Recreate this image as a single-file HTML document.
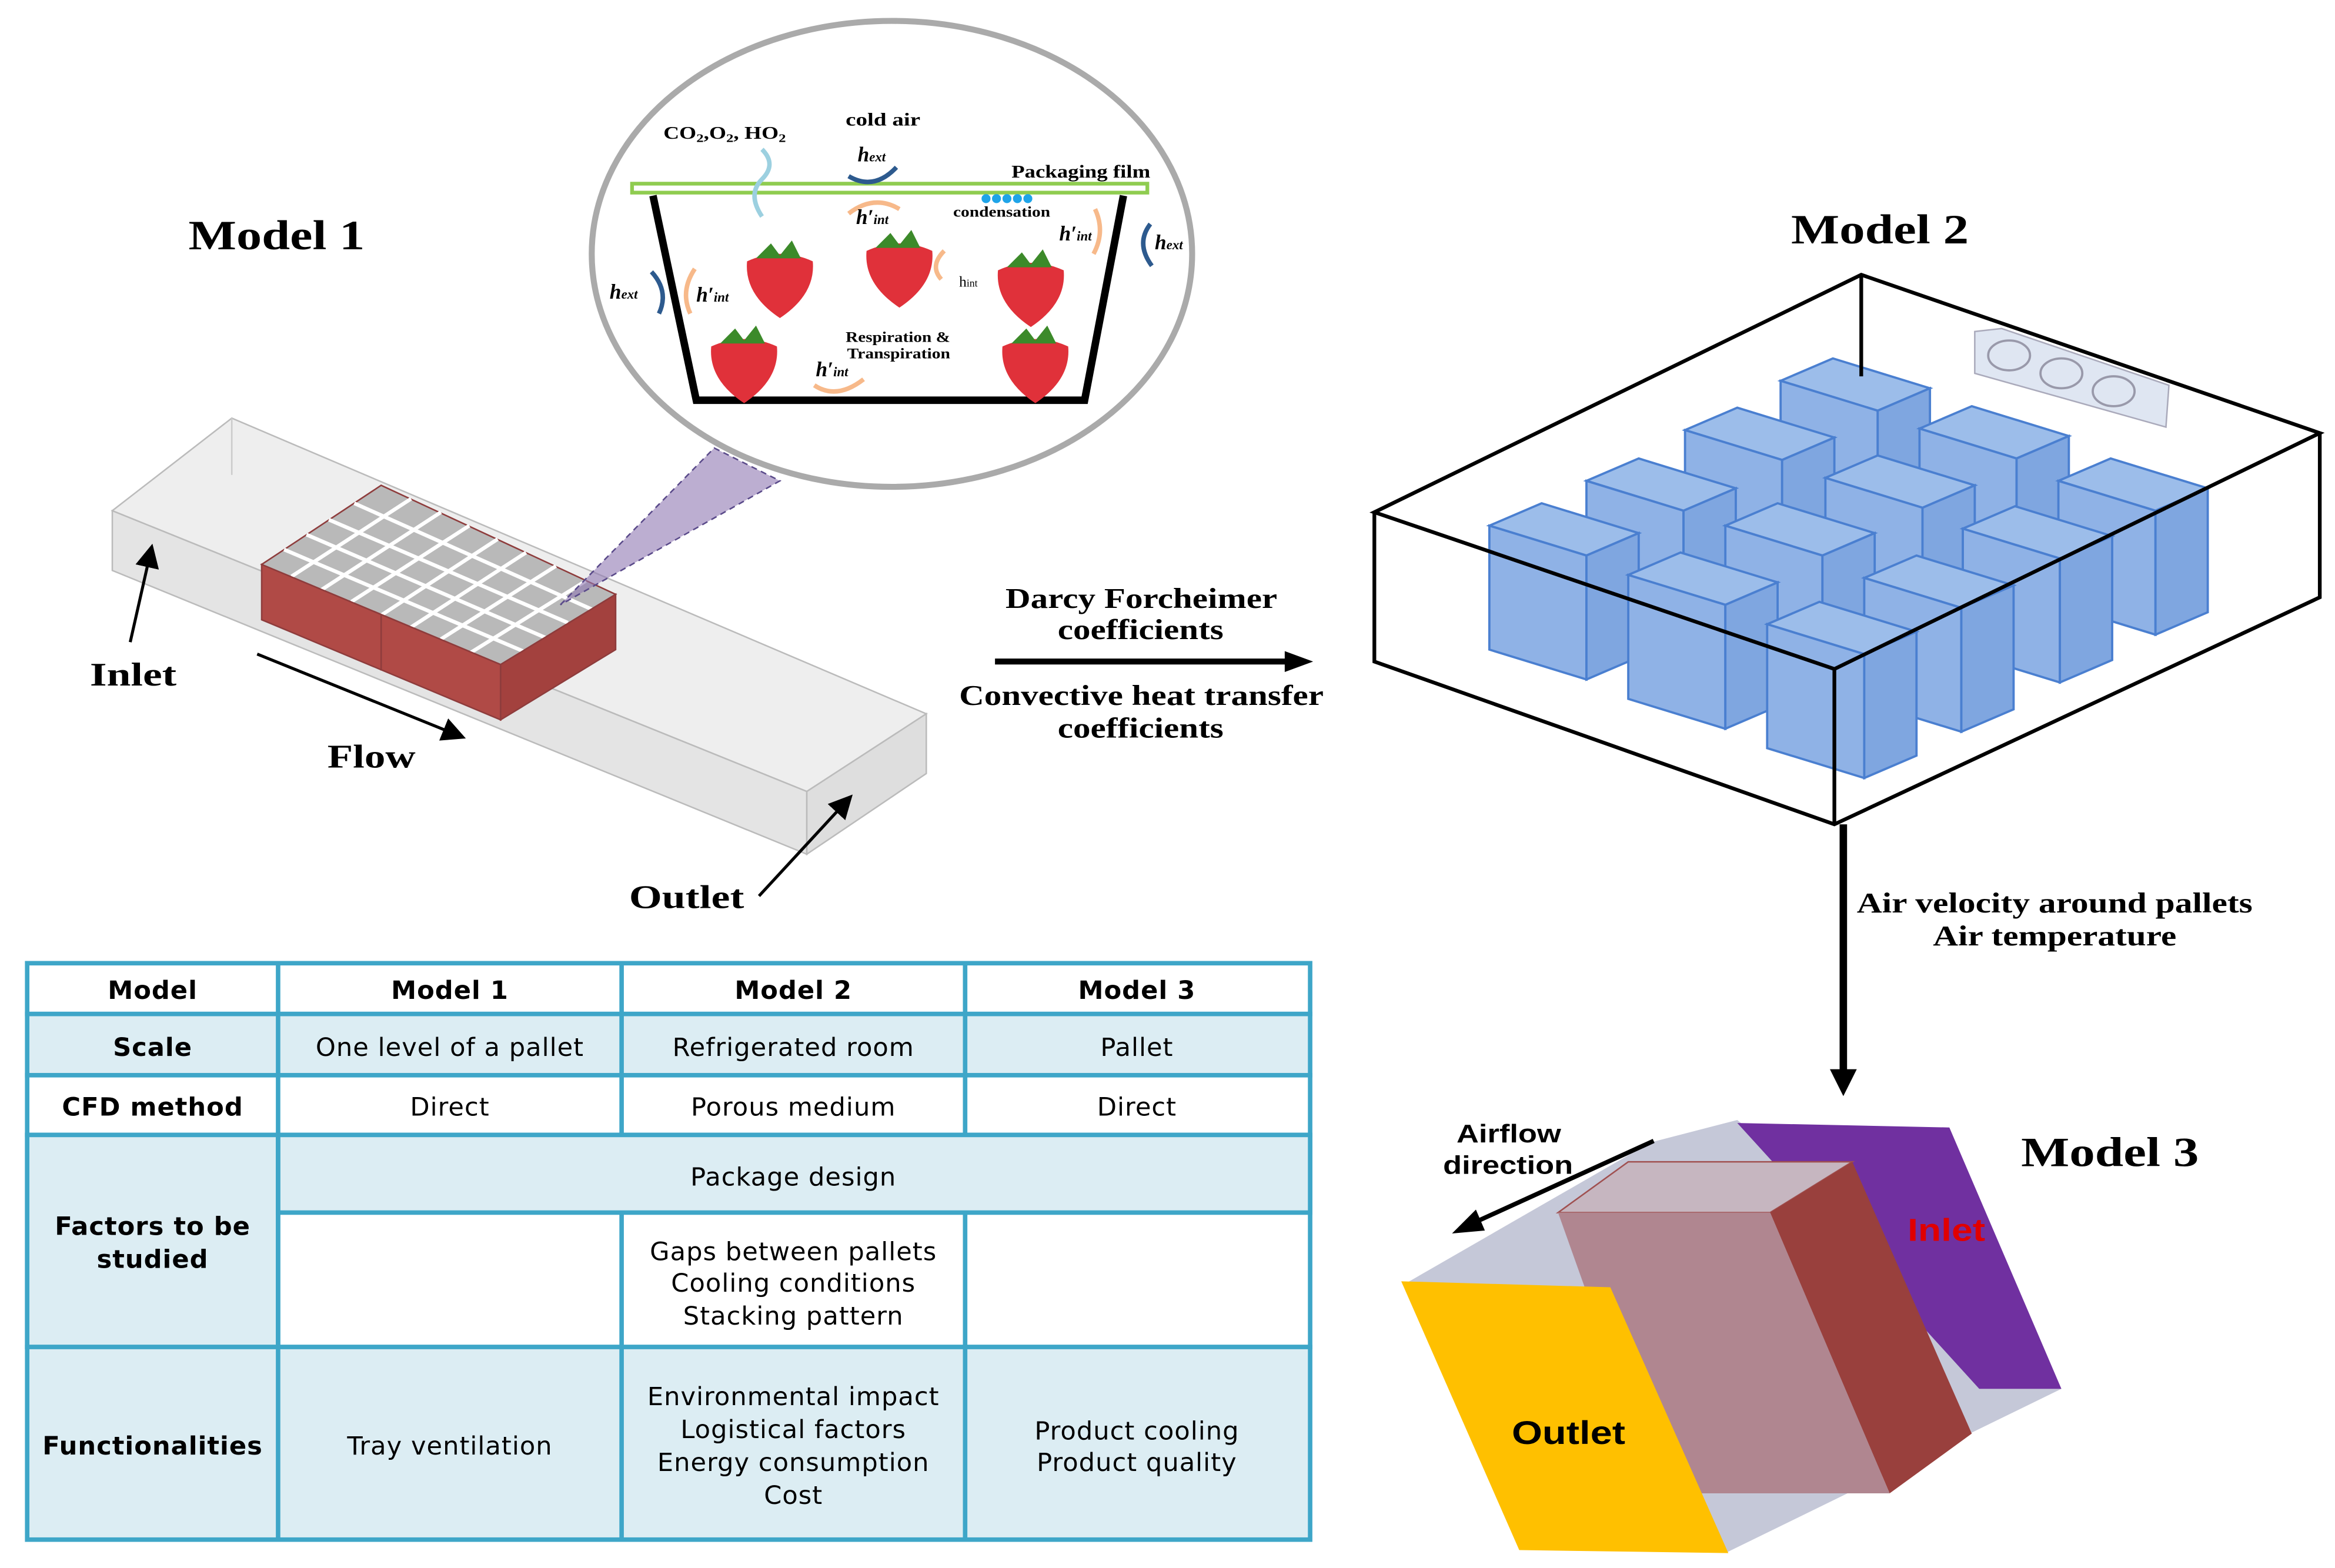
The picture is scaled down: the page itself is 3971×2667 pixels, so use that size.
<!DOCTYPE html>
<html><head><meta charset="utf-8"><style>
html,body{margin:0;padding:0;background:#fff}
svg{display:block}
.s{font-family:"Liberation Serif",serif;font-weight:bold;fill:#000}
.t{font-family:"DejaVu Sans","Liberation Sans",sans-serif;font-size:17px;letter-spacing:0.4px;fill:#000;text-anchor:middle}
.tb{font-weight:bold}
</style></head><body>
<svg width="3971" height="2667" viewBox="0 0 1563 1050" xmlns="http://www.w3.org/2000/svg">
<defs>
<marker id="ah" markerWidth="8" markerHeight="8" refX="6" refY="4" orient="auto" markerUnits="strokeWidth"><path d="M0,0 L8,4 L0,8 z" fill="#000"/></marker>
<g id="sb"><path d="M-22,-12 Q0,-22 22,-12 Q24,10 0,26 Q-24,10 -22,-12z" fill="#e0313a"/><path d="M-16,-14 L-6,-24 L0,-16 L8,-26 L14,-14 z" fill="#3c8a2a"/></g>
<g id="cube">
<path d="M0,0 L35,-15 L100,5 L65,20 z" fill="#9cbdea" stroke="#4a7fd0" stroke-width="1.5"/>
<path d="M0,0 L65,20 L65,103 L0,83 z" fill="#8fb2e6" stroke="#4a7fd0" stroke-width="1.5"/>
<path d="M65,20 L100,5 L100,88 L65,103 z" fill="#7fa6e0" stroke="#4a7fd0" stroke-width="1.5"/>
</g>
</defs>

<!-- Model 1 box -->
<path d="M75,342 L155,280 L620,478 L540,530 z" fill="#eeeeee" stroke="#bbb" stroke-width="1"/>
<path d="M75,342 L540,530 L540,572 L75,382 z" fill="#e4e4e4" stroke="#bbb" stroke-width="1"/>
<path d="M540,530 L620,478 L620,518 L540,572 z" fill="#dedede" stroke="#bbb" stroke-width="1"/>
<line x1="155" y1="280" x2="155" y2="318" stroke="#ccc"/>
<!-- red tray -->
<path d="M175,378 L255,325 L412,398 L335,445 z" fill="#b9b9b9" stroke="#8e3c3c"/>
<g stroke="#fff" stroke-width="2.5">
<line x1="195" y1="386" x2="275" y2="334"/><line x1="215" y1="395" x2="295" y2="343"/><line x1="235" y1="403" x2="314" y2="352"/><line x1="255" y1="412" x2="333" y2="361"/><line x1="275" y1="420" x2="352" y2="370"/><line x1="295" y1="428" x2="372" y2="379"/><line x1="315" y1="437" x2="392" y2="389"/>
<line x1="190" y1="368" x2="350" y2="436"/><line x1="205" y1="358" x2="365" y2="427"/><line x1="220" y1="348" x2="380" y2="417"/><line x1="237" y1="337" x2="396" y2="408"/>
</g>
<path d="M175,378 L335,445 L335,482 L175,415 z" fill="#b04a46" stroke="#8e3c3c"/>
<path d="M335,445 L412,398 L412,435 L335,482 z" fill="#a3413e" stroke="#8e3c3c"/>
<line x1="255" y1="412" x2="255" y2="449" stroke="#8e3c3c"/>
<!-- purple cone -->
<path d="M375,405 L478,300 L522,322 z" fill="#8f78b3" fill-opacity="0.6" stroke="#5a4a8a" stroke-dasharray="4,3"/>
<!-- circle -->
<ellipse cx="597" cy="170" rx="201" ry="156" fill="#fff" stroke="#aaa" stroke-width="4"/>
<rect x="423" y="123" width="345" height="6" fill="#fff" stroke="#8fcc50" stroke-width="2.5"/>
<path d="M437,131 L466,268 L726,268 L752,131" fill="none" stroke="#000" stroke-width="5"/>
<g transform="translate(522,187)"><use href="#sb"/></g>
<g transform="translate(602,180)"><use href="#sb"/></g>
<g transform="translate(690,193)"><use href="#sb"/></g>
<g transform="translate(498,244)"><use href="#sb"/></g>
<g transform="translate(693,244)"><use href="#sb"/></g>
<g fill="none" stroke-width="3">
<path d="M568,118 Q585,128 600,112" stroke="#2d5a8e"/>
<path d="M568,143 Q585,130 602,140" stroke="#f7b98a"/>
<path d="M545,258 Q560,268 578,254" stroke="#f7b98a"/>
<path d="M462,210 Q455,195 465,180" stroke="#f7b98a"/>
<path d="M441,210 Q448,195 436,182" stroke="#2d5a8e"/>
<path d="M732,170 Q740,155 733,140" stroke="#f7b98a"/>
<path d="M771,178 Q760,163 770,150" stroke="#2d5a8e"/>
<path d="M630,187 Q622,178 632,168" stroke="#f7b98a"/>
<path d="M510,100 Q520,110 510,120 Q500,130 510,145" stroke="#9cd0e0"/>
</g>
<g fill="#1fa4e8"><circle cx="660" cy="133" r="3"/><circle cx="667" cy="133" r="3"/><circle cx="674" cy="133" r="3"/><circle cx="681" cy="133" r="3"/><circle cx="688" cy="133" r="3"/></g>
<g class="s" font-size="12">
<text x="444" y="93" textLength="82" lengthAdjust="spacingAndGlyphs">CO<tspan font-size="8" dy="2">2</tspan><tspan dy="-2">,O</tspan><tspan font-size="8" dy="2">2</tspan><tspan dy="-2">, HO</tspan><tspan font-size="8" dy="2">2</tspan></text>
<text x="566" y="84" textLength="50" lengthAdjust="spacingAndGlyphs">cold air</text>
<text x="677" y="119" textLength="93" lengthAdjust="spacingAndGlyphs">Packaging film</text>
<text x="638" y="145" font-size="10" textLength="65" lengthAdjust="spacingAndGlyphs">condensation</text>
<text x="566" y="229" font-size="10" textLength="70" lengthAdjust="spacingAndGlyphs">Respiration &amp;</text>
<text x="567" y="240" font-size="10" textLength="69" lengthAdjust="spacingAndGlyphs">Transpiration</text>
<text x="642" y="192" font-weight="normal" font-size="10">h<tspan font-size="7">int</tspan></text>
<g font-style="italic" font-size="14">
<text x="574" y="108">h<tspan font-size="9">ext</tspan></text>
<text x="408" y="200">h<tspan font-size="9">ext</tspan></text>
<text x="773" y="167">h<tspan font-size="9">ext</tspan></text>
<text x="573" y="150">h′<tspan font-size="9">int</tspan></text>
<text x="466" y="202">h′<tspan font-size="9">int</tspan></text>
<text x="709" y="161">h′<tspan font-size="9">int</tspan></text>
<text x="546" y="252">h′<tspan font-size="9">int</tspan></text>
</g></g>

<text class="s" x="126" y="167" font-size="28" textLength="118" lengthAdjust="spacingAndGlyphs">Model 1</text>
<text class="s" x="60" y="459" font-size="22" textLength="58" lengthAdjust="spacingAndGlyphs">Inlet</text>
<text class="s" x="219" y="514" font-size="22" textLength="59" lengthAdjust="spacingAndGlyphs">Flow</text>
<text class="s" x="421" y="608" font-size="22" textLength="77" lengthAdjust="spacingAndGlyphs">Outlet</text>
<g stroke="#000" stroke-width="2" fill="none">
<line x1="87" y1="430" x2="101" y2="368" marker-end="url(#ah)"/>
<line x1="172" y1="438" x2="308" y2="493" marker-end="url(#ah)"/>
<line x1="508" y1="600" x2="568" y2="535" marker-end="url(#ah)"/>
</g>

<!-- middle arrow -->
<line x1="666" y1="443" x2="866" y2="443" stroke="#000" stroke-width="4"/>
<path d="M860,436 L879,443 L860,450 z" fill="#000"/>
<g class="s" font-size="19" lengthAdjust="spacingAndGlyphs">
<text x="673" y="407" textLength="182" lengthAdjust="spacingAndGlyphs">Darcy Forcheimer</text>
<text x="708" y="428" textLength="111" lengthAdjust="spacingAndGlyphs">coefficients</text>
<text x="642" y="472" textLength="244" lengthAdjust="spacingAndGlyphs">Convective heat transfer</text>
<text x="708" y="494" textLength="111" lengthAdjust="spacingAndGlyphs">coefficients</text>
</g>

<!-- Model 2 -->
<text class="s" x="1199" y="163" font-size="28" textLength="119" lengthAdjust="spacingAndGlyphs">Model 2</text>
<path d="M1322,222 L1340,220 L1452,258 L1450,286 L1322,250 z" fill="#dfe6f2" stroke="#aab"/>
<g fill="none" stroke="#99a" stroke-width="1.5"><ellipse cx="1345" cy="238" rx="14" ry="10"/><ellipse cx="1380" cy="250" rx="14" ry="10"/><ellipse cx="1415" cy="262" rx="14" ry="10"/></g>
<use href="#cube" x="1192" y="255"/>
<use href="#cube" x="1128" y="288"/>
<use href="#cube" x="1285" y="287"/>
<use href="#cube" x="1062" y="322"/>
<use href="#cube" x="1222" y="320"/>
<use href="#cube" x="1378" y="322"/>
<use href="#cube" x="1155" y="352"/>
<use href="#cube" x="1314" y="354"/>
<use href="#cube" x="997" y="352"/>
<use href="#cube" x="1248" y="387"/>
<use href="#cube" x="1090" y="385"/>
<use href="#cube" x="1183" y="418"/>
<g fill="none" stroke="#000" stroke-width="2.5">
<path d="M920,343 L1246,184 L1553,290 L1228,448 z"/>
<path d="M920,343 L920,443 L1228,552 L1553,400 L1553,290"/>
<line x1="1228" y1="448" x2="1228" y2="552"/>
<line x1="1246" y1="184" x2="1246" y2="252"/>
</g>
<line x1="1234" y1="552" x2="1234" y2="718" stroke="#000" stroke-width="5"/>
<path d="M1225,716 L1234,734 L1243,716 z" fill="#000"/>
<g class="s" font-size="19">
<text x="1243" y="611" textLength="265" lengthAdjust="spacingAndGlyphs">Air velocity around pallets</text>
<text x="1294" y="633" textLength="163" lengthAdjust="spacingAndGlyphs">Air temperature</text>
</g>

<!-- Model 3 -->
<text class="s" x="1353" y="781" font-size="28" textLength="119" lengthAdjust="spacingAndGlyphs">Model 3</text>
<path d="M1105,765 L1163,750 L1380,930 L1155,1040 L940,860 z" fill="#c5c8d8"/>
<path d="M1163,752 L1305,755 L1380,930 L1325,930 z" fill="#7030a0"/>
<path d="M1043,812 L1090,778 L1240,778 L1185,812 z" fill="#c6b6c0" stroke="#a05050"/>
<path d="M1185,812 L1240,778 L1320,960 L1265,1000 z" fill="#99403d"/>
<path d="M1043,812 L1185,812 L1265,1000 L1110,1000 z" fill="#b08690"/>
<path d="M938,858 L1078,862 L1157,1040 L1017,1038 z" fill="#ffc000"/>
<text x="1012" y="967" font-family="Liberation Sans,sans-serif" font-weight="bold" font-size="22" textLength="76" lengthAdjust="spacingAndGlyphs">Outlet</text>
<text x="1277" y="831" font-family="Liberation Sans,sans-serif" font-weight="bold" font-size="21" fill="#e00000" textLength="52" lengthAdjust="spacingAndGlyphs">Inlet</text>
<g font-family="Liberation Sans,sans-serif" font-weight="bold" font-size="17">
<text x="975" y="765" textLength="70" lengthAdjust="spacingAndGlyphs">Airflow</text><text x="966" y="786" textLength="87" lengthAdjust="spacingAndGlyphs">direction</text></g>
<line x1="1107" y1="764" x2="984" y2="820" stroke="#000" stroke-width="3"/>
<path d="M972,826 L988,810 L994,824 z" fill="#000"/>

<!-- table -->
<g stroke="#3ea6c8" stroke-width="3">
<rect x="18" y="645" width="859" height="34" fill="#fff"/>
<rect x="18" y="679" width="859" height="41" fill="#dcedf3"/>
<rect x="18" y="720" width="859" height="40" fill="#fff"/>
<rect x="18" y="760" width="859" height="142" fill="#fff"/>
<rect x="18" y="760" width="168" height="142" fill="#dcedf3"/>
<rect x="186" y="760" width="691" height="52" fill="#dcedf3"/>
<rect x="18" y="902" width="859" height="129" fill="#dcedf3"/>
<line x1="186" y1="645" x2="186" y2="1031"/>
<line x1="416" y1="645" x2="416" y2="760"/><line x1="646" y1="645" x2="646" y2="760"/>
<line x1="416" y1="812" x2="416" y2="1031"/><line x1="646" y1="812" x2="646" y2="1031"/>
</g>
<g class="t">
<text class="tb" x="102" y="669">Model</text><text class="tb" x="301" y="669">Model 1</text><text class="tb" x="531" y="669">Model 2</text><text class="tb" x="761" y="669">Model 3</text>
<text class="tb" x="102" y="707">Scale</text><text x="301" y="707">One level of a pallet</text><text x="531" y="707">Refrigerated room</text><text x="761" y="707">Pallet</text>
<text class="tb" x="102" y="747">CFD method</text><text x="301" y="747">Direct</text><text x="531" y="747">Porous medium</text><text x="761" y="747">Direct</text>
<text x="531" y="794">Package design</text>
<text class="tb" x="102" y="827">Factors to be</text><text class="tb" x="102" y="849">studied</text>
<text x="531" y="844">Gaps between pallets</text><text x="531" y="865">Cooling conditions</text><text x="531" y="887">Stacking pattern</text>
<text class="tb" x="102" y="974">Functionalities</text><text x="301" y="974">Tray ventilation</text>
<text x="531" y="941">Environmental impact</text><text x="531" y="963">Logistical factors</text><text x="531" y="985">Energy consumption</text><text x="531" y="1007">Cost</text>
<text x="761" y="964">Product cooling</text><text x="761" y="985">Product quality</text>
</g>
</svg>
</body></html>
